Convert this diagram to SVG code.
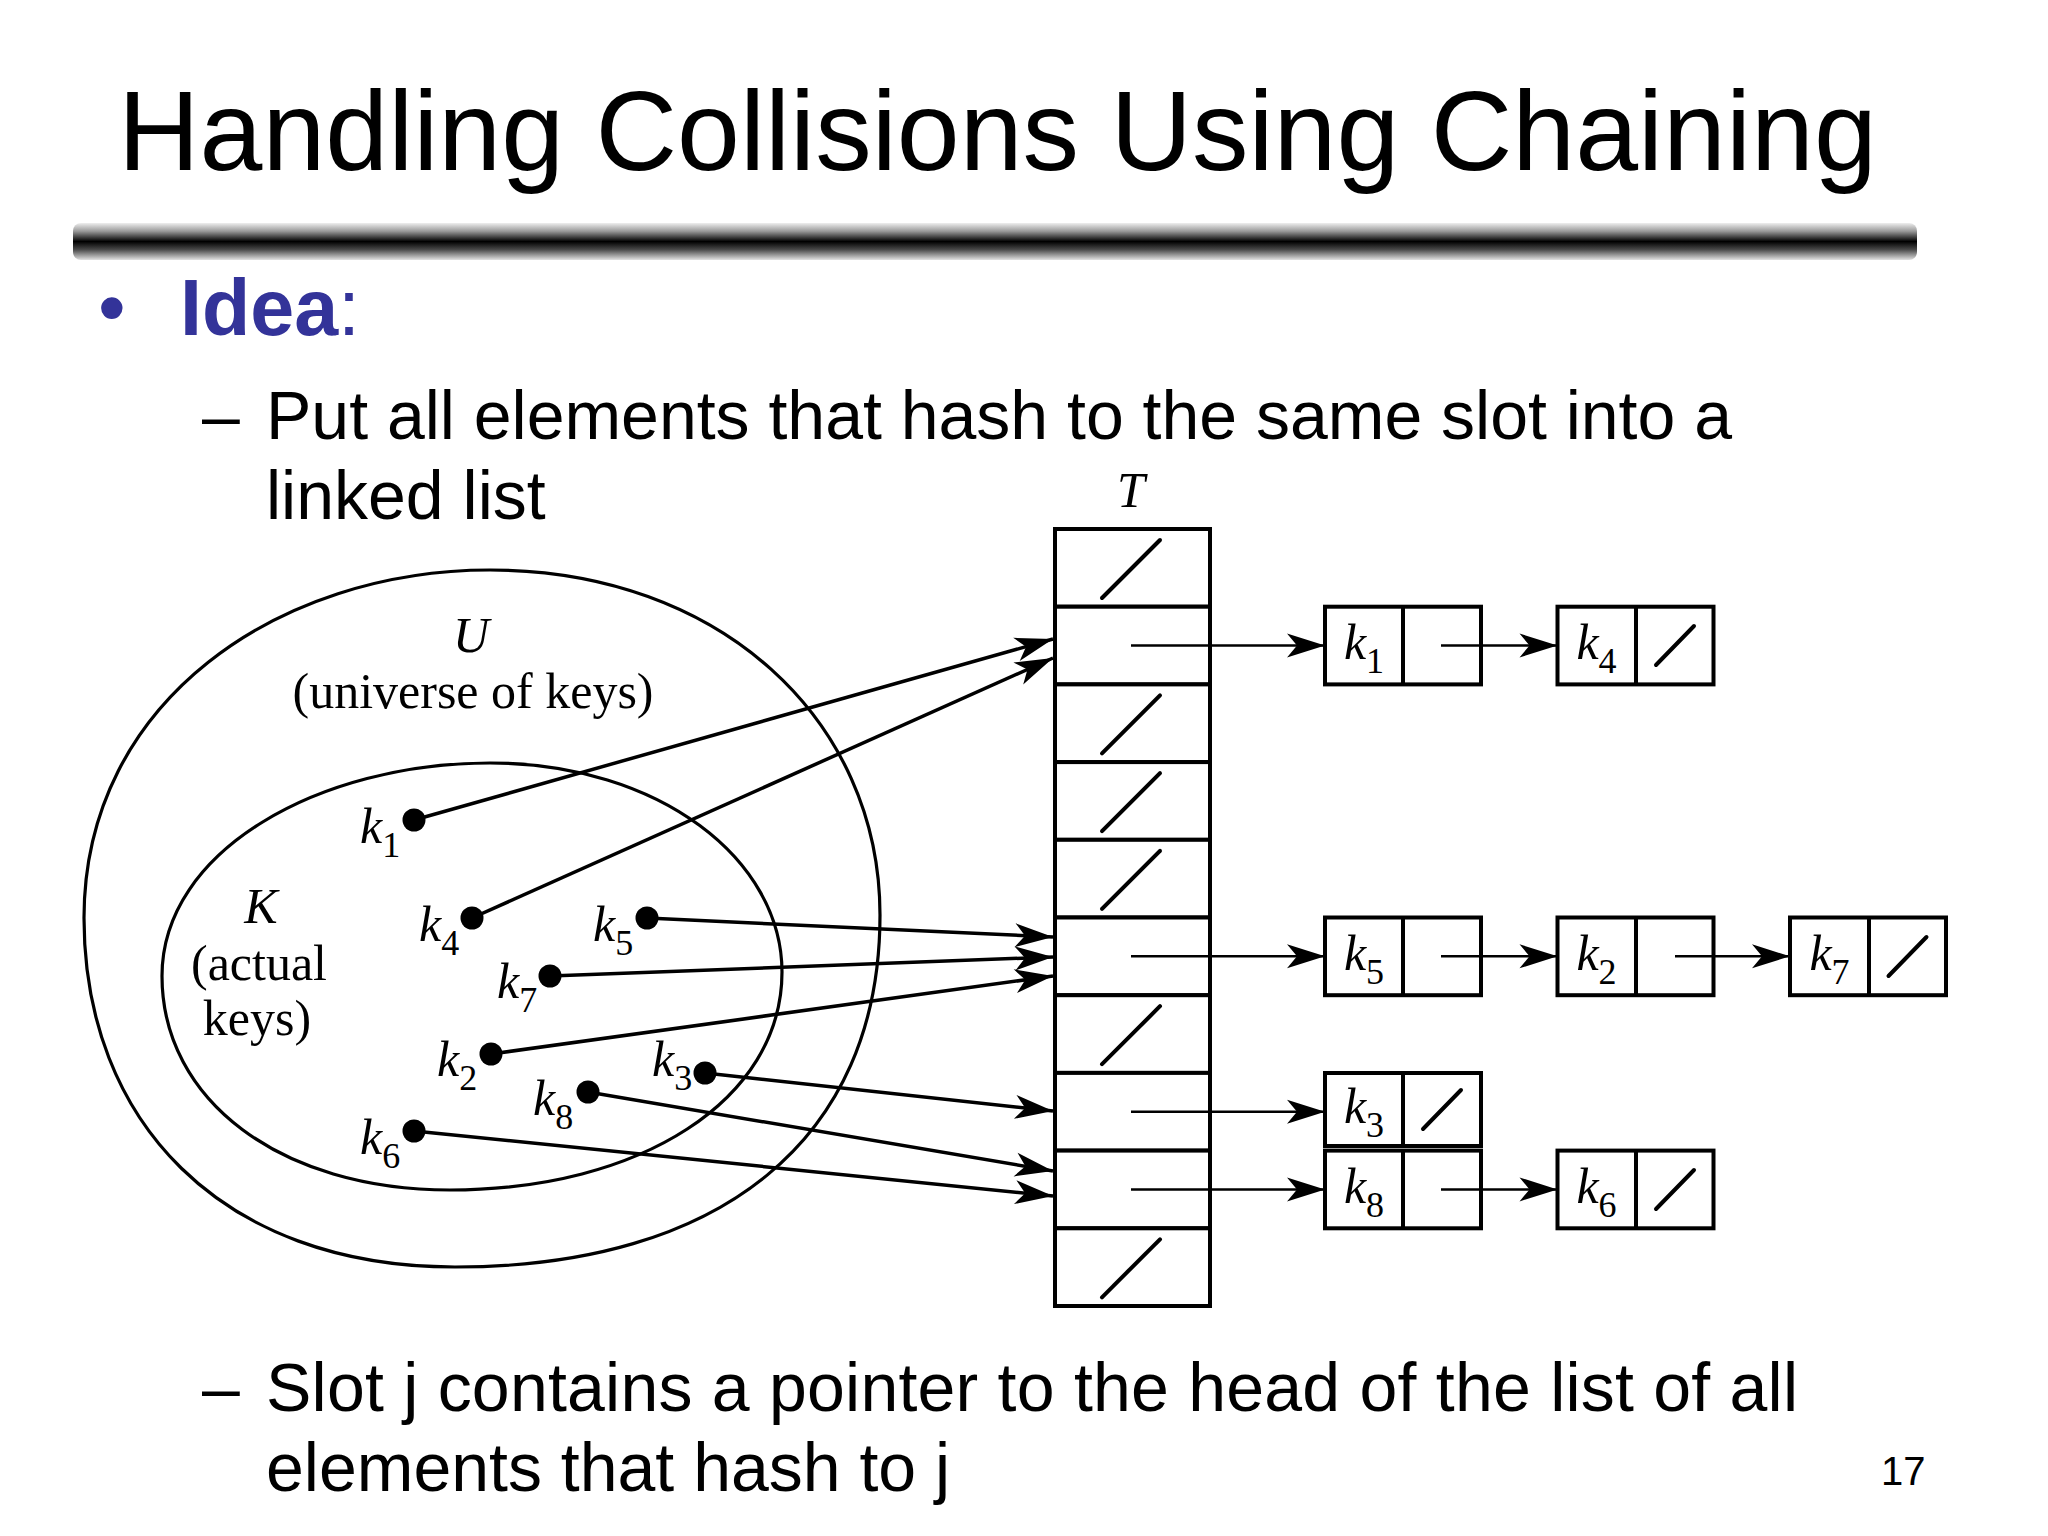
<svg xmlns="http://www.w3.org/2000/svg" width="2048" height="1536" viewBox="0 0 2048 1536">
<defs>
<linearGradient id="barGrad" x1="0" y1="0" x2="0" y2="1">
<stop offset="0" stop-color="#eeeeee"/>
<stop offset="0.22" stop-color="#9a9a9a"/>
<stop offset="0.5" stop-color="#000000"/>
<stop offset="0.72" stop-color="#4a4a4a"/>
<stop offset="1" stop-color="#e2e2e2"/>
</linearGradient>
<marker id="arr" markerUnits="userSpaceOnUse" markerWidth="40" markerHeight="24" refX="38" refY="12" orient="auto" overflow="visible">
<path d="M0,0 L38,12 L0,24 L10,12 Z" fill="#000"/>
</marker>
</defs>
<style>
.title{font-family:"Liberation Sans",Arial,sans-serif;font-size:113px;fill:#000}
.body{font-family:"Liberation Sans",Arial,sans-serif;font-size:68px;fill:#000}
.idea{font-family:"Liberation Sans",Arial,sans-serif;font-size:79px;fill:#333399}
.serif{font-family:"Liberation Serif","Times New Roman",serif;font-size:50px;fill:#000}
.it{font-style:italic}
.sub{font-size:36px;font-style:normal}
.set{fill:none;stroke:#000;stroke-width:3.2}
.cell{fill:#fff;stroke:#000;stroke-width:4}
.div{stroke:#000;stroke-width:4}
.nil{stroke:#000;stroke-width:4;stroke-linecap:round}
.dot{fill:#000}
.karrow{stroke:#000;stroke-width:3.5;fill:none;marker-end:url(#arr)}
.parrow{stroke:#000;stroke-width:2.5;fill:none;marker-end:url(#arr)}
</style>
<rect x="0" y="0" width="2048" height="1536" fill="#fff"/>

<g id="title">
<text class="title" x="118" y="170">Handling Collisions Using Chaining</text>
<rect x="73" y="223" width="1844" height="37" rx="8" fill="url(#barGrad)"/>
</g>

<g id="bullets">
<text class="idea" x="98" y="335" font-size="72">•</text>
<text class="idea" x="180" y="335"><tspan font-weight="bold">Idea</tspan>:</text>
<text class="body" x="202" y="439">–</text>
<text class="body" x="266" y="439" textLength="1466" lengthAdjust="spacing">Put all elements that hash to the same slot into a</text>
<text class="body" x="266" y="519">linked list</text>
<text class="body" x="202" y="1411">–</text>
<text class="body" x="266" y="1411" textLength="1532" lengthAdjust="spacing">Slot j contains a pointer to the head of the list of all</text>
<text class="body" x="266" y="1491">elements that hash to j</text>
<text x="1881" y="1485" font-family="Liberation Sans, Arial, sans-serif" font-size="40" fill="#000">17</text>
</g>

<g id="universe">
<path class="set" d="M84 918 C84 700 280 570 490 570 C720 570 880 720 880 915 C880 1140 720 1267 455 1267 C220 1267 84 1120 84 918 Z"/>
<text class="serif it" x="471" y="652" text-anchor="middle" font-size="52">U</text>
<text class="serif" x="473" y="708" text-anchor="middle" font-size="51">(universe of keys)</text>
</g>

<g id="actual-keys">
<path class="set" d="M162 976 C162 850 320 763 490 763 C660 763 782 860 782 972 C782 1100 640 1190 450 1190 C280 1190 162 1100 162 976 Z"/>
<text class="serif it" x="261" y="923" text-anchor="middle" font-size="52">K</text>
<text class="serif" x="259" y="980" text-anchor="middle" font-size="51">(actual</text>
<text class="serif" x="257" y="1035" text-anchor="middle" font-size="51">keys)</text>
</g>

<g id="key-k1"><circle class="dot" cx="414" cy="820" r="11.5"/><text class="serif it" x="360" y="843">k<tspan class="sub" dy="14">1</tspan></text></g>
<g id="key-k4"><circle class="dot" cx="472" cy="918" r="11.5"/><text class="serif it" x="419" y="941">k<tspan class="sub" dy="14">4</tspan></text></g>
<g id="key-k5"><circle class="dot" cx="647" cy="918" r="11.5"/><text class="serif it" x="593" y="941">k<tspan class="sub" dy="14">5</tspan></text></g>
<g id="key-k7"><circle class="dot" cx="550" cy="976" r="11.5"/><text class="serif it" x="497" y="998">k<tspan class="sub" dy="14">7</tspan></text></g>
<g id="key-k2"><circle class="dot" cx="491" cy="1054" r="11.5"/><text class="serif it" x="437" y="1076">k<tspan class="sub" dy="14">2</tspan></text></g>
<g id="key-k3"><circle class="dot" cx="705" cy="1073" r="11.5"/><text class="serif it" x="652" y="1076">k<tspan class="sub" dy="14">3</tspan></text></g>
<g id="key-k8"><circle class="dot" cx="588" cy="1092" r="11.5"/><text class="serif it" x="533" y="1115">k<tspan class="sub" dy="14">8</tspan></text></g>
<g id="key-k6"><circle class="dot" cx="414" cy="1131" r="11.5"/><text class="serif it" x="360" y="1154">k<tspan class="sub" dy="14">6</tspan></text></g>

<g id="table-T">
<text class="serif it" x="1131" y="507" text-anchor="middle">T</text>
<g id="slot-0"><rect class="cell" x="1055" y="529" width="155" height="77.7"/><line class="nil" x1="1102" y1="598" x2="1160" y2="540"/></g>
<g id="slot-1"><rect class="cell" x="1055" y="606.7" width="155" height="77.7"/></g>
<g id="slot-2"><rect class="cell" x="1055" y="684.4" width="155" height="77.7"/><line class="nil" x1="1102" y1="753.4" x2="1160" y2="695.4"/></g>
<g id="slot-3"><rect class="cell" x="1055" y="762.1" width="155" height="77.7"/><line class="nil" x1="1102" y1="831.1" x2="1160" y2="773.1"/></g>
<g id="slot-4"><rect class="cell" x="1055" y="839.8" width="155" height="77.7"/><line class="nil" x1="1102" y1="908.8" x2="1160" y2="850.8"/></g>
<g id="slot-5"><rect class="cell" x="1055" y="917.5" width="155" height="77.7"/></g>
<g id="slot-6"><rect class="cell" x="1055" y="995.2" width="155" height="77.7"/><line class="nil" x1="1102" y1="1064.2" x2="1160" y2="1006.2"/></g>
<g id="slot-7"><rect class="cell" x="1055" y="1072.9" width="155" height="77.7"/></g>
<g id="slot-8"><rect class="cell" x="1055" y="1150.6" width="155" height="77.7"/></g>
<g id="slot-9"><rect class="cell" x="1055" y="1228.3" width="155" height="77.7"/><line class="nil" x1="1102" y1="1297.3" x2="1160" y2="1239.3"/></g>
</g>

<g id="node-k1"><rect class="cell" x="1325" y="606.7" width="156" height="77.7"/><line class="div" x1="1403" y1="606.7" x2="1403" y2="684.4"/><text class="serif it" x="1364" y="659" text-anchor="middle">k<tspan class="sub" dy="14">1</tspan></text></g>
<g id="node-k4"><rect class="cell" x="1557.5" y="606.7" width="156" height="77.7"/><line class="div" x1="1636" y1="606.7" x2="1636" y2="684.4"/><text class="serif it" x="1596.5" y="659" text-anchor="middle">k<tspan class="sub" dy="14">4</tspan></text><line class="nil" x1="1656" y1="665" x2="1694" y2="626"/></g>

<g id="node-k5"><rect class="cell" x="1325" y="917.5" width="156" height="77.7"/><line class="div" x1="1403" y1="917.5" x2="1403" y2="995.2"/><text class="serif it" x="1364" y="969.5" text-anchor="middle">k<tspan class="sub" dy="14">5</tspan></text></g>
<g id="node-k2"><rect class="cell" x="1557.5" y="917.5" width="156" height="77.7"/><line class="div" x1="1636" y1="917.5" x2="1636" y2="995.2"/><text class="serif it" x="1596.5" y="969.5" text-anchor="middle">k<tspan class="sub" dy="14">2</tspan></text></g>
<g id="node-k7"><rect class="cell" x="1790" y="917.5" width="156" height="77.7"/><line class="div" x1="1869" y1="917.5" x2="1869" y2="995.2"/><text class="serif it" x="1829.5" y="969.5" text-anchor="middle">k<tspan class="sub" dy="14">7</tspan></text><line class="nil" x1="1888.5" y1="976" x2="1926.5" y2="937"/></g>

<g id="node-k3"><rect class="cell" x="1325" y="1073" width="156" height="73"/><line class="div" x1="1403" y1="1073" x2="1403" y2="1146"/><text class="serif it" x="1364" y="1123" text-anchor="middle">k<tspan class="sub" dy="14">3</tspan></text><line class="nil" x1="1423" y1="1129" x2="1461" y2="1090"/></g>

<g id="node-k8"><rect class="cell" x="1325" y="1150.6" width="156" height="77.7"/><line class="div" x1="1403" y1="1150.6" x2="1403" y2="1228.3"/><text class="serif it" x="1364" y="1202.5" text-anchor="middle">k<tspan class="sub" dy="14">8</tspan></text></g>
<g id="node-k6"><rect class="cell" x="1557.5" y="1150.6" width="156" height="77.7"/><line class="div" x1="1636" y1="1150.6" x2="1636" y2="1228.3"/><text class="serif it" x="1596.5" y="1202.5" text-anchor="middle">k<tspan class="sub" dy="14">6</tspan></text><line class="nil" x1="1656" y1="1209" x2="1694" y2="1170"/></g>

<g id="connectors">
<line class="karrow" x1="414" y1="820" x2="1053" y2="639"/>
<line class="karrow" x1="472" y1="918" x2="1053" y2="658"/>
<line class="karrow" x1="647" y1="918" x2="1053" y2="937"/>
<line class="karrow" x1="550" y1="976" x2="1053" y2="957"/>
<line class="karrow" x1="491" y1="1054" x2="1053" y2="976"/>
<line class="karrow" x1="705" y1="1073" x2="1053" y2="1111"/>
<line class="karrow" x1="588" y1="1092" x2="1053" y2="1171"/>
<line class="karrow" x1="414" y1="1131" x2="1053" y2="1196"/>
<line class="parrow" x1="1131" y1="645.5" x2="1325" y2="645.5"/>
<line class="parrow" x1="1441" y1="645.5" x2="1557.5" y2="645.5"/>
<line class="parrow" x1="1131" y1="956.3" x2="1325" y2="956.3"/>
<line class="parrow" x1="1441" y1="956.3" x2="1557.5" y2="956.3"/>
<line class="parrow" x1="1675" y1="956.3" x2="1790" y2="956.3"/>
<line class="parrow" x1="1131" y1="1111.7" x2="1325" y2="1111.7"/>
<line class="parrow" x1="1131" y1="1189.4" x2="1325" y2="1189.4"/>
<line class="parrow" x1="1441" y1="1189.4" x2="1557.5" y2="1189.4"/>
</g>
</svg>
